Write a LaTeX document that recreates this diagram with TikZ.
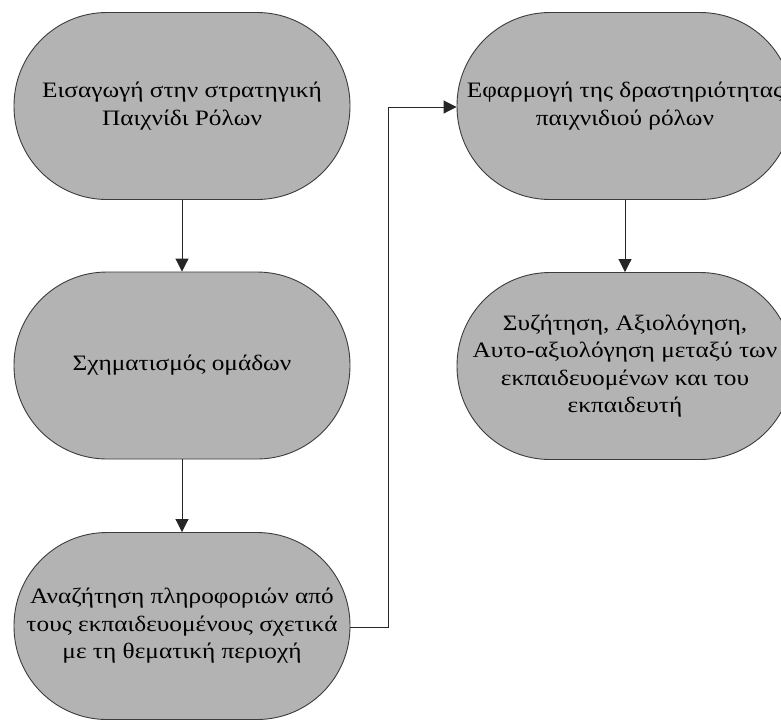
\documentclass[tikz,border=0pt]{standalone}
\usepackage{fontspec}
\setmainfont{Liberation Serif}[FakeStretch=1.15]
\usetikzlibrary{arrows.meta}
\definecolor{boxfill}{HTML}{B3B3B3}
\definecolor{boxline}{HTML}{3C3C3C}
\begin{document}
\begin{tikzpicture}[x=1pt,y=-1pt,
  stadium/.style={draw=boxline, line width=0.9pt, fill=boxfill,
    rounded corners=93pt, minimum width=336pt, minimum height=187pt,
    inner sep=0pt, align=center, font=\fontsize{22}{27.5}\selectfont},
  flow/.style={draw=black!85, line width=0.9pt,
    -{Triangle[length=13pt,width=13pt]}}]
\clip (0,0) rectangle (781,721);
\fill[white] (0,0) rectangle (781,721);

\node[stadium] (intro) at (182,106) {Εισαγωγή στην στρατηγική\\Παιχνίδι Ρόλων};
\node[stadium] (groups) at (182,365.5) {Σχηματισμός ομάδων};
\node[stadium] (search) at (182,626) {Αναζήτηση πληροφοριών από\\τους εκπαιδευομένους σχετικά\\με τη θεματική περιοχή};
\node[stadium] (apply) at (625,106) {Εφαρμογή της δραστηριότητας\\παιχνιδιού ρόλων};
\node[stadium] (discuss) at (625,366) {Συζήτηση, Αξιολόγηση,\\Αυτο-αξιολόγηση μεταξύ των\\εκπαιδευομένων και του\\εκπαιδευτή};

\coordinate (bendlow) at (388,627);
\coordinate (bendhigh) at (388,107);

\draw[flow] (intro) -- (groups);
\draw[flow] (groups) -- (search);
\draw[flow] (search.east |- bendlow) -- (bendlow) -- (bendhigh) -- (apply.west |- bendhigh);
\draw[flow] (apply) -- (discuss);
\end{tikzpicture}
\end{document}
